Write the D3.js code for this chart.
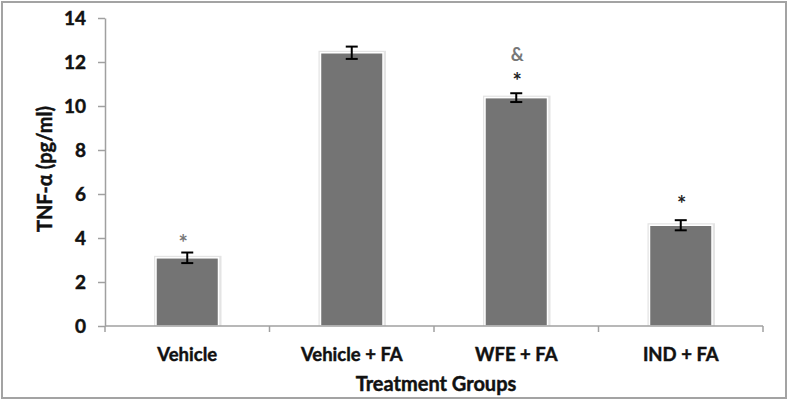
<!DOCTYPE html>
<html><head><meta charset="utf-8">
<script src="https://cdn.jsdelivr.net/npm/d3@7"></script>
<style>body{margin:0;background:#fff}svg{display:block}text{font-family:Lato,"Open Sans",sans-serif;font-weight:bold}
.lbl{stroke:#111;stroke-width:0.45px}</style>
</head><body>
<svg id="c" width="790" height="402"></svg>
<script>
const categories = ["Vehicle", "Vehicle + FA", "WFE + FA", "IND + FA"];
const values = [3.1, 12.42, 10.38, 4.58];
const errors = [0.24, 0.28, 0.2, 0.23];
const marksTop = ["*", "", "&", ""];
const marksStar = ["", "", "*", "*"];
const yTicks = [0, 2, 4, 6, 8, 10, 12, 14];
const yTitle = "TNF-α (pg/ml)";
const xTitle = "Treatment Groups";

const svg = d3.select("#c");
svg.append("rect").attr("x", 2).attr("y", 2).attr("width", 784).attr("height", 396)
  .attr("fill", "#fff").attr("stroke", "#a3a3a3").attr("stroke-width", 2);

const x0 = 105, x1 = 763, yTop = 18, yBot = 326;
const x = d3.scaleBand().domain(categories).range([x0, x1]).paddingInner(0.62).paddingOuter(0.31);
const y = d3.scaleLinear().domain([0, 14]).range([yBot, yTop]);

// y axis
const ya = svg.append("g").attr("transform", `translate(${x0},0)`)
  .call(d3.axisLeft(y).tickValues(yTicks).tickSize(7).tickSizeOuter(0).tickPadding(12));
ya.select(".domain").attr("stroke", "#a0a0a0").attr("stroke-width", 1.5);
ya.selectAll(".tick line").attr("stroke", "#a0a0a0").attr("stroke-width", 1.5);
ya.selectAll(".tick text").attr("class", "lbl").attr("font-size", 19).attr("fill", "#111").attr("font-family", "Lato");

// bars
const g = svg.append("g");
const starOff = [0, 0, 4, 8];
const topOff = [2, 0, 32, 0];
categories.forEach((c, i) => {
  const bx = x(c), bw = x.bandwidth(), by = y(values[i]);
  g.append("rect").attr("x", bx - 2).attr("y", by - 2).attr("width", bw + 5).attr("height", yBot - by + 2)
    .attr("fill", "#e4e4e4");
  g.append("rect").attr("x", bx).attr("y", by).attr("width", bw).attr("height", yBot - by)
    .attr("fill", "#747474").attr("stroke", "#fff").attr("stroke-width", 1.5);
  const cx = bx + bw / 2;
  const e1 = y(values[i] + errors[i]), e2 = y(values[i] - errors[i]);
  g.append("line").attr("x1", cx).attr("x2", cx).attr("y1", e1).attr("y2", e2).attr("stroke", "#000").attr("stroke-width", 2);
  [e1, e2].forEach(ev => g.append("line").attr("x1", cx - 6).attr("x2", cx + 6).attr("y1", ev).attr("y2", ev).attr("stroke", "#000").attr("stroke-width", 2));
  if (marksStar[i]) {
    g.append("text").attr("x", cx + 1).attr("y", e1 - starOff[i]).attr("text-anchor", "middle")
      .attr("font-size", 22).attr("fill", "#222").attr("font-family", "Liberation Serif").text(marksStar[i]);
  }
  if (marksTop[i]) {
    g.append("text").attr("x", cx + (i === 0 ? -4 : 1)).attr("y", e1 - topOff[i]).attr("text-anchor", "middle")
      .attr("font-size", i === 0 ? 22 : 18).attr("fill", "#777").attr("font-family", "Liberation Serif").text(marksTop[i]);
  }
});

// x axis
const xa = svg.append("g").attr("transform", `translate(0,${yBot})`);
xa.append("line").attr("x1", x0).attr("x2", x1).attr("y1", 0).attr("y2", 0).attr("stroke", "#a0a0a0").attr("stroke-width", 1.5);
const step = (x1 - x0) / categories.length;
d3.range(categories.length + 1).forEach(k => {
  xa.append("line").attr("x1", x0 + k * step).attr("x2", x0 + k * step).attr("y1", 0).attr("y2", 6)
    .attr("stroke", "#a0a0a0").attr("stroke-width", 1.5);
});
categories.forEach(c => {
  xa.append("text").attr("class", "lbl").attr("x", x(c) + x.bandwidth() / 2).attr("y", 35).attr("text-anchor", "middle")
    .attr("font-size", 18.5).attr("fill", "#111").text(c);
});

svg.append("text").attr("class", "lbl").attr("x", 436).attr("y", 391).attr("text-anchor", "middle")
  .attr("font-size", 20).attr("fill", "#111").text(xTitle);
svg.append("text").attr("class", "lbl").attr("transform", `translate(52,169) rotate(-90)`).attr("text-anchor", "middle")
  .attr("font-size", 20).attr("fill", "#111").text(yTitle);
</script>
</body></html>
